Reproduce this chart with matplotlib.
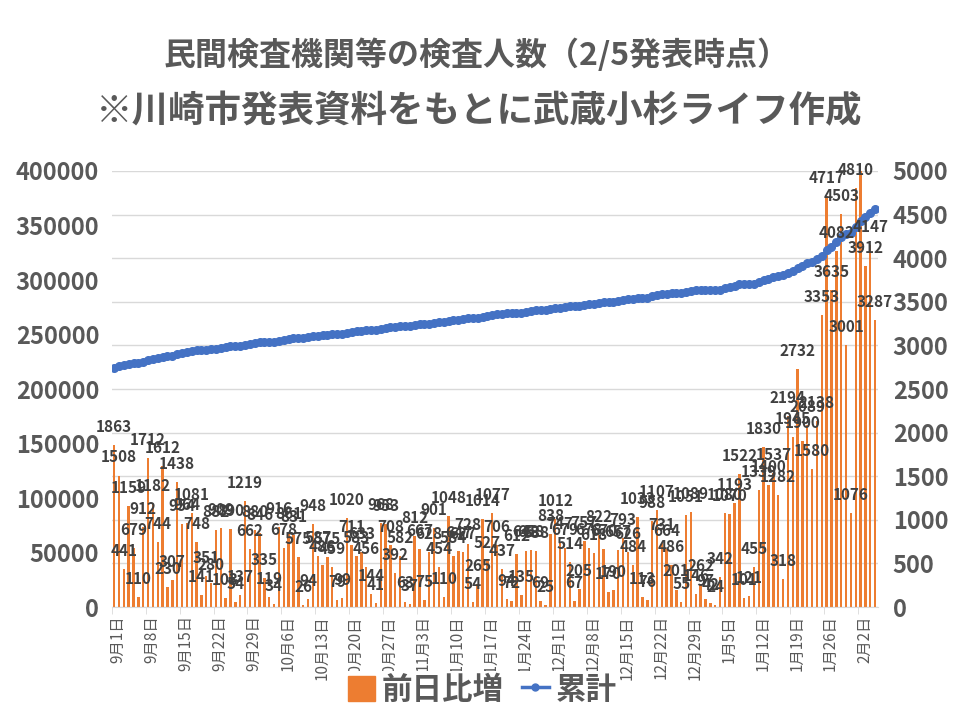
import numpy as np
import matplotlib
matplotlib.use("Agg")
import matplotlib.pyplot as plt
from matplotlib.patches import Patch
from matplotlib.lines import Line2D

plt.rcParams['font.family'] = ['Noto Sans CJK JP', 'DejaVu Sans']

# 前日比増 (読み取り値) 9/1 - 2/5
sep = [1863, 1508, 441, 1159, 679, 110, 912, 1712, 1182, 744, 1612, 230, 307, 1438, 954,
       964, 1081, 748, 141, 351, 280, 882, 909, 103, 890, 54, 137, 1219, 662, 880]
oct_ = [846, 335, 119, 34, 916, 678, 861, 831, 575, 26, 94, 948, 587, 486, 575, 459,
        79, 99, 1020, 711, 583, 633, 456, 144, 41, 968, 953, 708, 392, 582, 63]
nov = [37, 812, 667, 75, 628, 901, 454, 110, 1048, 584, 647, 627, 728, 54, 265, 1014,
       527, 1077, 706, 437, 94, 72, 612, 135, 648, 658, 638, 69, 25, 838]
dec = [1012, 747, 679, 514, 67, 205, 757, 678, 618, 822, 670, 170, 190, 657, 793, 626,
       484, 1033, 113, 76, 988, 1107, 731, 664, 486, 201, 55, 1051, 1089, 146, 262]
jan = [97, 42, 24, 342, 1080, 1070, 1193, 1522, 101, 121, 455, 1339, 1830, 1400, 1537,
       1282, 318, 2194, 1945, 2732, 1900, 2089, 1580, 2138, 3353, 4717, 3635, 4082, 4503,
       3001, 1076]
feb = [4810, 5500, 3912, 4147, 3287]   # 2/2 は軸の上限を超えている

daily = sep + oct_ + nov + dec + jan + feb

# 累計 = 9/1時点の累計 + 前日比増の積み上げ
start_total = 219700
total = start_total - daily[0] + np.cumsum(daily)

tick_labels = ["9月1日", "9月8日", "9月15日", "9月22日", "9月29日", "10月6日", "10月13日",
               "10月20日", "10月27日", "11月3日", "11月10日", "11月17日", "11月24日",
               "12月1日", "12月8日", "12月15日", "12月22日", "12月29日", "1月5日",
               "1月12日", "1月19日", "1月26日", "2月2日"]

gray = '#595959'

fig = plt.figure(figsize=(9.6, 7.2), dpi=100)
ax = fig.add_axes([0.1164, 0.1569, 0.7977, 0.6056])
ax2 = ax.twinx()

x = np.arange(len(daily))

# 棒 (右軸)
ax.bar(x, daily, width=0.5, color='#ED7D31')
ax.set_ylim(0, 5000)
ax.set_xlim(-0.5, len(daily) - 0.5)
ax.set_yticks(range(0, 5001, 500))
ax.yaxis.tick_right()
ax.grid(axis='y', color='#d9d9d9', lw=1)
ax.set_axisbelow(True)
ax.tick_params(axis='y', length=0, pad=11, labelsize=17, labelcolor=gray)
for lab in ax.get_yticklabels():
    lab.set_fontweight('bold')

pos = np.arange(0, len(daily), 7)
ax.set_xticks(pos + 0.8)
ax.set_xticklabels(tick_labels, rotation=90, fontsize=11, color=gray)
ax.tick_params(axis='x', which='major', length=0, pad=6)
ax.set_xticks(pos - 0.5, minor=True)
ax.tick_params(axis='x', which='minor', length=5, color='#d9d9d9')

for s in ['top', 'left', 'right']:
    ax.spines[s].set_visible(False)
ax.spines['bottom'].set_color('#d9d9d9')

# 累計 (左軸)
ax2.plot(x, total, color='#4472C4', lw=1.8, marker='o', ms=5.5)
ax2.set_ylim(0, 400000)
ax2.set_yticks(range(0, 400001, 50000))
ax2.yaxis.tick_left()
ax2.tick_params(axis='y', length=0, pad=9, labelsize=17, labelcolor=gray)
for lab in ax2.get_yticklabels():
    lab.set_fontweight('bold')
for s in ax2.spines.values():
    s.set_visible(False)

# データラベル
for i, v in enumerate(daily):
    if v > 5000:
        continue
    ax2.annotate(str(v), xy=(i, v), xycoords=ax.transData, xytext=(0, 13),
                 textcoords='offset points', ha='center', va='center',
                 fontsize=11, fontweight='bold', color='#404040',
                 annotation_clip=False)

fig.text(0.497, 1 - 55 / 720, "民間検査機関等の検査人数（2/5発表時点）",
         ha='center', va='center', fontsize=23, fontweight='bold', color=gray)
fig.text(0.499, 1 - 112 / 720, "※川崎市発表資料をもとに武蔵小杉ライフ作成",
         ha='center', va='center', fontsize=26.3, fontweight='bold', color=gray)

handles = [Patch(color='#ED7D31'),
           Line2D([], [], color='#4472C4', lw=2.5, marker='o', ms=5)]
leg = fig.legend(handles, ['前日比増', '累計'], loc='center',
                 bbox_to_anchor=(0.502, 1 - 690 / 720), ncol=2, frameon=True,
                 facecolor='white', edgecolor='none', framealpha=1, fancybox=False,
                 borderpad=0.1, prop=dict(size=22, weight='bold'), labelcolor=gray,
                 handlelength=0.9, handleheight=0.9, handletextpad=0.2,
                 columnspacing=0.6)

fig.savefig('out.png', dpi=100)
